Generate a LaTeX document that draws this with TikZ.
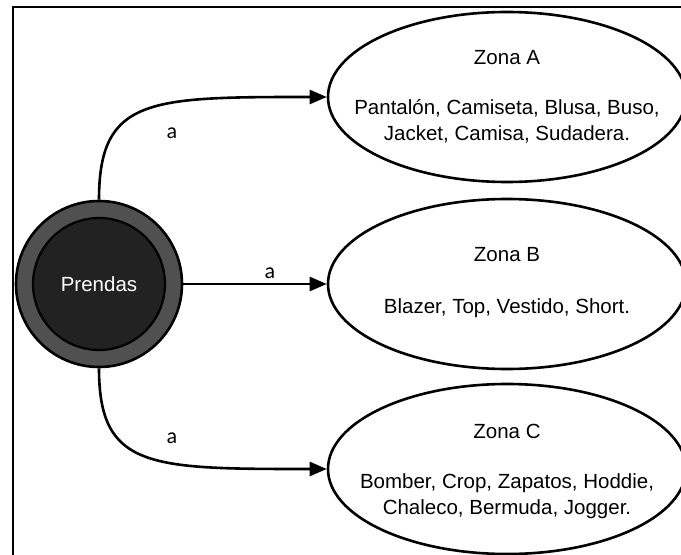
\documentclass[tikz,border=0pt]{standalone}
\usepackage{fontspec}
\setmainfont{Liberation Sans}
\newfontfamily\lblfont{Carlito}
\usetikzlibrary{shapes.geometric,arrows.meta}
\definecolor{ringgray}{HTML}{505050}
\definecolor{coredark}{HTML}{222222}
\tikzset{
  zone/.style={ellipse, draw=black, line width=2.6bp, fill=white, minimum width=358bp, minimum height=170bp, inner sep=0pt},
  ztext/.style={align=center, font=\fontsize{20.5bp}{26bp}\selectfont, inner sep=0pt},
  outerring/.style={circle, draw=black, line width=2.6bp, fill=ringgray, minimum size=166bp, inner sep=0pt},
  innercore/.style={circle, draw=black, line width=2.2bp, fill=coredark, minimum size=132bp, inner sep=0pt, text=white, font=\fontsize{20.5bp}{24bp}\selectfont},
  conn/.style={line width=2.6bp, -{Triangle[length=17bp,width=14bp]}},
  lbl/.style={font=\lblfont\fontsize{22bp}{24bp}\selectfont, inner sep=0pt},
  frameline/.style={line width=2.8bp}
}
\begin{document}
\begin{tikzpicture}[x=1bp,y=-1bp]
\useasboundingbox (0,0) rectangle (681,555);
\clip (0,0) rectangle (681,555);
\fill[white] (0,0) rectangle (681,555);
\draw[frameline] (13,7) rectangle (720,600);

\node[zone] (A) at (507,97) {};
\node[ztext] (At) at (507,97) {Zona A\\[24bp]Pantalón, Camiseta, Blusa, Buso,\\Jacket, Camisa, Sudadera.};
\node[zone] (B) at (507,284) {};
\node[ztext] (Bt) at (507,283) {Zona B\\[26bp]Blazer, Top, Vestido, Short.};
\node[zone] (C) at (507,469) {};
\node[ztext] (Ct) at (507,471) {Zona C\\[24bp]Bomber, Crop, Zapatos, Hoddie,\\Chaleco, Bermuda, Jogger.};

\node[outerring] (P) at (99,284) {};
\node[innercore] (Pin) at (P) {Prendas};

\draw[conn] (P.north) .. controls (99,97) and (150,97) .. (A.west);
\draw[conn] (P.east) -- (B.west);
\draw[conn] (P.south) .. controls (99,469) and (150,469) .. (C.west);

\node[lbl] (la) at (172,133) {a};
\node[lbl] (lb) at (270,273) {a};
\node[lbl] (lc) at (172,438) {a};
\end{tikzpicture}
\end{document}
